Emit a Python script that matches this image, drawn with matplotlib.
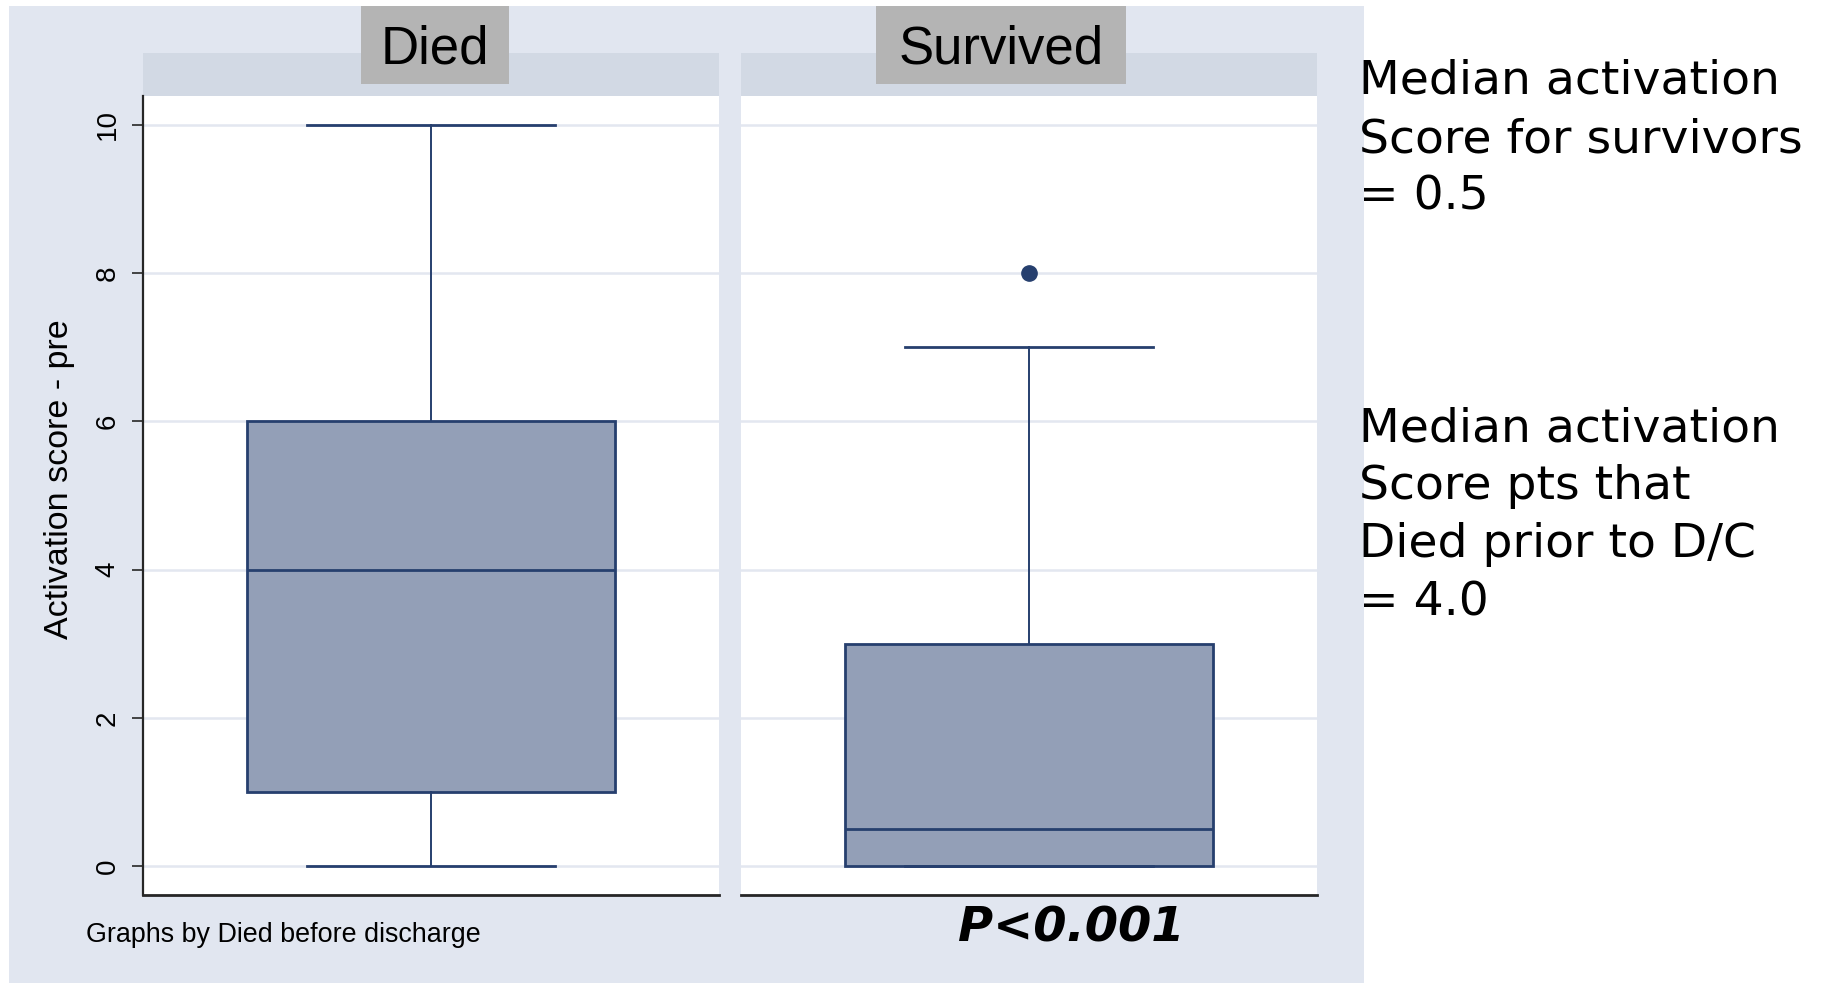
import matplotlib
matplotlib.use("Agg")
import matplotlib.pyplot as plt
from matplotlib.patches import Rectangle

# ---- data -------------------------------------------------------------
groups = ["Died", "Survived"]
medians = [4.0, 0.5]
q1s = [1.0, 0.0]
q3s = [6.0, 3.0]
whisker_lo = [0.0, 0.0]
whisker_hi = [10.0, 7.0]
outliers = [[], [8.0]]
yticks = [0, 2, 4, 6, 8, 10]

y_label = "Activation score - pre"
note = "Graphs by Died before discharge"
p_text = "P<0.001"
block_survivors = ["Median activation", "Score for survivors", "= 0.5"]
block_died = ["Median activation", "Score pts that", "Died prior to D/C", "= 4.0"]

# ---- style ------------------------------------------------------------
W, H, DPI = 1822, 984, 100
NAVY = "#263f6e"
FILL = "#939fb7"
BG = "#e1e6f0"
STRIP = "#d2d9e4"
LABELBOX = "#b4b4b4"
GRID = "#e3e7f0"
AXIS = "#262626"

fig = plt.figure(figsize=(W / DPI, H / DPI), dpi=DPI, facecolor="white")


def fx(px):
    return px / W


def fy(py):
    return 1 - py / H


def frect(x0, y0, x1, y1, color, z=0):
    fig.patches.append(Rectangle((fx(x0), fy(y1)), fx(x1) - fx(x0), fy(y0) - fy(y1),
                                 transform=fig.transFigure, facecolor=color,
                                 edgecolor="none", zorder=z))


# outer graph region
frect(9, 6, 1364, 983, BG, z=0)

panels_x = [(143, 719), (741, 1317)]
plot_top, plot_bot = 96, 895
label_boxes = [(361, 509), (876, 1126)]

for i, name in enumerate(groups):
    x0, x1 = panels_x[i]
    # strip band above each panel
    frect(x0, 53, x1, plot_top, STRIP, z=1)
    ax = fig.add_axes([fx(x0), fy(plot_bot), fx(x1) - fx(x0), fy(plot_top) - fy(plot_bot)])
    ax.set_facecolor("white")
    ax.set_zorder(2)
    stats = [dict(med=medians[i], q1=q1s[i], q3=q3s[i], whislo=whisker_lo[i],
                  whishi=whisker_hi[i], fliers=outliers[i], label=name)]
    ax.bxp(stats, positions=[1], widths=0.64, capwidths=0.43, patch_artist=True,
           showfliers=True,
           boxprops=dict(facecolor=FILL, edgecolor=NAVY, linewidth=2.0),
           medianprops=dict(color=NAVY, linewidth=2.0),
           whiskerprops=dict(color=NAVY, linewidth=1.4),
           capprops=dict(color=NAVY, linewidth=2.0),
           flierprops=dict(marker="o", markersize=11, markerfacecolor=NAVY,
                           markeredgecolor=NAVY))
    ax.set_xlim(0.5, 1.5)
    ax.set_ylim(-0.39, 10.39)
    ax.set_yticks(yticks)
    ax.set_xticks([])
    ax.yaxis.grid(True, color=GRID, linewidth=1.8)
    ax.set_axisbelow(True)
    for s in ("top", "right"):
        ax.spines[s].set_visible(False)
    ax.spines["bottom"].set_color(AXIS)
    ax.spines["bottom"].set_linewidth(2.0)
    if i == 0:
        ax.spines["left"].set_color(AXIS)
        ax.spines["left"].set_linewidth(1.6)
        ax.tick_params(axis="y", length=8, width=1.2, color=AXIS, pad=8,
                       labelsize=20)
        for t in ax.get_yticklabels():
            t.set_rotation(90)
            t.set_va("center")
            t.set_family("Liberation Sans")
    else:
        ax.spines["left"].set_visible(False)
        ax.tick_params(axis="y", length=0, labelleft=False)

    # grey label box with group name
    bx0, bx1 = label_boxes[i]
    frect(bx0, 6, bx1, 84, LABELBOX, z=3)
    fig.text(fx((bx0 + bx1) / 2), fy(49), name, ha="center", va="center",
             fontsize=38, family="Liberation Sans", color="black", zorder=4)

fig.text(fx(60), fy(479), y_label, rotation=90, ha="center", va="center",
         fontsize=24.5, family="Liberation Sans", color="black")
fig.text(fx(86), fy(942), note, ha="left", va="baseline", fontsize=19.4,
         family="Liberation Sans", color="black")
fig.text(fx(958), fy(941), p_text, ha="left", va="baseline", fontsize=34.5,
         family="DejaVu Sans", weight="bold", style="oblique", color="black")

# side annotations
for k, line in enumerate(block_survivors):
    fig.text(fx(1359), fy(94 + 58 * k), line, ha="left", va="baseline",
             fontsize=34, family="DejaVu Sans", color="black", zorder=5)
for k, line in enumerate(block_died):
    fig.text(fx(1359), fy(441 + 58 * k), line, ha="left", va="baseline",
             fontsize=34, family="DejaVu Sans", color="black", zorder=5)

fig.savefig("out.png", dpi=DPI, facecolor="white")
